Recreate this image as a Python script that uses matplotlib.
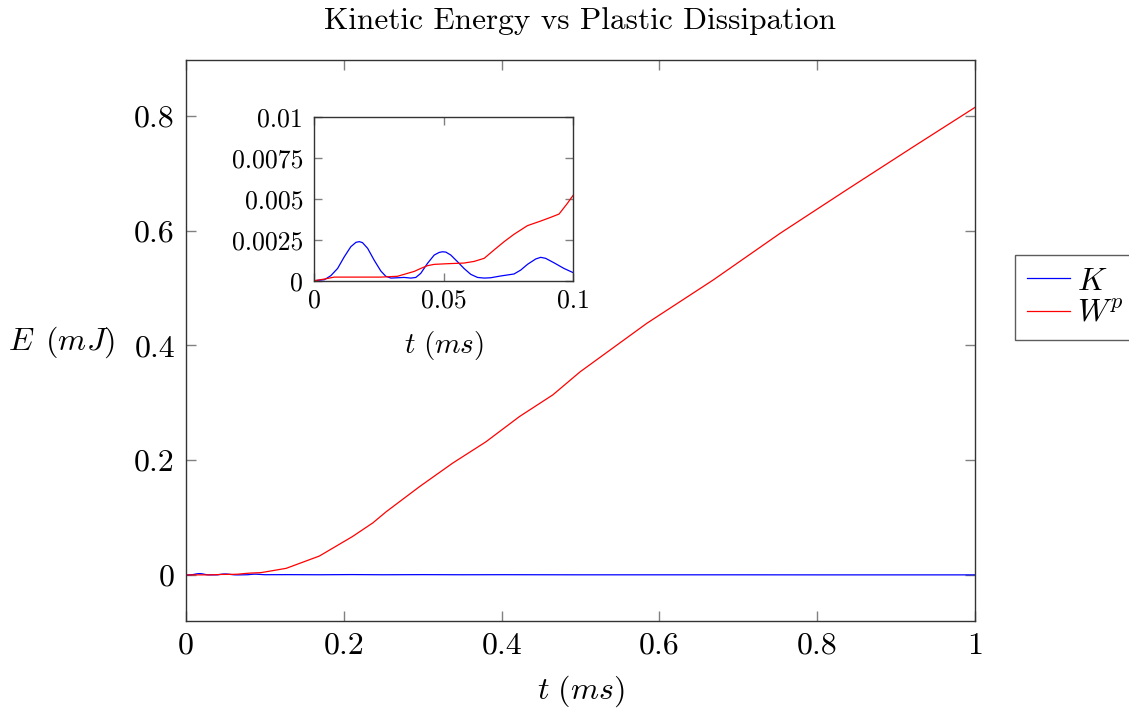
import matplotlib
matplotlib.use("Agg")
import matplotlib.pyplot as plt

# Kinetic energy K (mJ) against time (ms)
t_kin = [0.0, 0.0039, 0.0064, 0.009, 0.0116, 0.0141, 0.0161, 0.0174, 0.0186,
         0.0206, 0.0231, 0.0257, 0.0276, 0.0296, 0.0321, 0.0347, 0.0373,
         0.0392, 0.0411, 0.0437, 0.0463, 0.0482, 0.0495, 0.0508, 0.0527,
         0.0553, 0.0578, 0.0604, 0.063, 0.0656, 0.0681, 0.072, 0.0771, 0.0797,
         0.0823, 0.0855, 0.0874, 0.0893, 0.0925, 0.0964, 0.1,
         0.13, 0.17, 0.21, 0.25, 0.30, 0.35, 0.40, 0.50, 0.60, 0.70, 0.80,
         0.90, 1.0]
kinetic = [0.0, 0.00006, 0.00031, 0.00075, 0.00147, 0.00208, 0.00235, 0.00239,
           0.00233, 0.00198, 0.00126, 0.00059, 0.00027, 0.00016, 0.00018,
           0.0002, 0.00016, 0.0002, 0.00045, 0.00106, 0.00157, 0.00173,
           0.00177, 0.00175, 0.00157, 0.00116, 0.00075, 0.00039, 0.0002,
           0.00016, 0.00018, 0.00029, 0.00041, 0.00065, 0.001, 0.00133,
           0.00143, 0.00137, 0.0011, 0.00075, 0.00049,
           0.0006, 0.0004, 0.0007, 0.0004, 0.0006, 0.0004, 0.0005, 0.0003,
           0.0003, 0.0003, 0.0002, 0.0002, 0.0002]

# Plastic dissipation W^p (mJ) against time (ms)
t_pla = [0.0, 0.0039, 0.0077, 0.0129, 0.0257, 0.0321, 0.0347, 0.0386, 0.0411,
         0.0437, 0.0463, 0.0514, 0.0578, 0.0617, 0.0656, 0.0694, 0.0733,
         0.0771, 0.0823, 0.0874, 0.0913, 0.0945, 0.0977, 0.1,
         0.127, 0.169, 0.211, 0.237, 0.2535, 0.296, 0.338, 0.380, 0.4225,
         0.465, 0.4994, 0.584, 0.668, 0.753, 0.837, 0.922, 1.0]
plastic = [0.0, 0.0001, 0.00022, 0.00022, 0.00022, 0.00027, 0.00039, 0.00057,
           0.00075, 0.00092, 0.001, 0.00104, 0.00108, 0.00118, 0.00137,
           0.00188, 0.00239, 0.00284, 0.00337, 0.00365, 0.00388, 0.00408,
           0.00473, 0.00524,
           0.0116, 0.033, 0.067, 0.091, 0.110, 0.154, 0.195, 0.232, 0.276,
           0.314, 0.354, 0.4386, 0.514, 0.5955, 0.671, 0.7465, 0.815]

main_xticks = [0, 0.2, 0.4, 0.6, 0.8, 1]
main_xlabels = ["0", "0.2", "0.4", "0.6", "0.8", "1"]
main_yticks = [0, 0.2, 0.4, 0.6, 0.8]
main_ylabels = ["0", "0.2", "0.4", "0.6", "0.8"]
inset_xticks = [0, 0.05, 0.1]
inset_xlabels = ["0", "0.05", "0.1"]
inset_yticks = [0, 0.0025, 0.005, 0.0075, 0.01]
inset_ylabels = ["0", "0.0025", "0.005", "0.0075", "0.01"]

plt.rcParams["font.family"] = "cmr10"
plt.rcParams["mathtext.fontset"] = "cm"
plt.rcParams["axes.unicode_minus"] = False

BLUE = (0, 0, 1)
RED = (1, 0, 0)
SPINE = "#333333"
TICK = "#808080"

fig = plt.figure(figsize=(11.29, 7.08), dpi=100)
ax = fig.add_axes([186 / 1129, 87 / 708, 789 / 1129, 561 / 708])


def style(a, size, ticklen, pad):
    for s in a.spines.values():
        s.set_color(SPINE)
        s.set_linewidth(1.0)
    a.tick_params(direction="in", top=True, right=True, length=ticklen,
                  width=1.0, color=TICK, labelsize=size, pad=pad)


lk, = ax.plot(t_kin, kinetic, color=BLUE, lw=0.9, label="$K$")
lw_, = ax.plot(t_pla, plastic, color=RED, lw=0.9, label="$W^p$")
ax.set_xlim(0, 1)
ax.set_ylim(-0.0802, 0.8976)
ax.set_xticks(main_xticks, main_xlabels)
ax.set_yticks(main_yticks, main_ylabels)
style(ax, 23, 7, 8)
ax.set_xlabel(r"$t\ (ms)$", fontsize=23, labelpad=10)
ax.set_ylabel(r"$E\ \,(mJ)$", fontsize=23, rotation=0, va="center", ha="center")
ax.yaxis.set_label_coords(-0.158, 0.497)
ax.set_title("Kinetic Energy vs Plastic Dissipation", fontsize=22.5, pad=22)

leg = fig.legend(handles=[lk, lw_], loc="center left",
                 bbox_to_anchor=(1015 / 1129, 1 - 297.5 / 708),
                 fontsize=23, frameon=True, fancybox=False, handlelength=1.35,
                 handletextpad=0.2, borderpad=0.38, labelspacing=0.12,
                 borderaxespad=0)
leg.get_frame().set_edgecolor(SPINE)
leg.get_frame().set_linewidth(1.0)

ins = fig.add_axes([314.3 / 1129, (708 - 280.7) / 708, 259 / 1129, 163.4 / 708])
ins.plot(t_kin, kinetic, color=BLUE, lw=0.9)
ins.plot(t_pla, plastic, color=RED, lw=0.9)
ins.set_xlim(0, 0.1)
ins.set_ylim(0, 0.01)
ins.set_xticks(inset_xticks, inset_xlabels)
ins.set_yticks(inset_yticks, inset_ylabels)
style(ins, 18.5, 6, 8)
ins.tick_params(axis="x", pad=6)
ins.set_xlabel(r"$t\ (ms)$", fontsize=21, labelpad=12)

fig.savefig("out.png", dpi=100)
